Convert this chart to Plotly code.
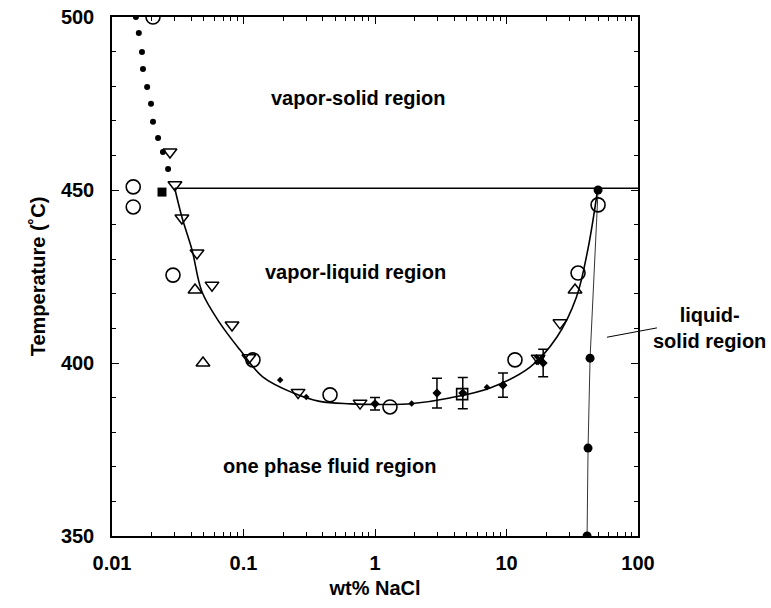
import math
import plotly.graph_objects as go

# ---------------- data ----------------
# dotted vapor-solid boundary (small filled dots)
dot_x = [0.0152, 0.0160, 0.0169, 0.0172, 0.0185, 0.0198, 0.0205, 0.0224, 0.0244, 0.0267]
dot_y = [500.0, 495.4, 489.9, 485.0, 479.8, 474.9, 469.7, 465.0, 461.0, 456.1]

# open circles
circ_x = [0.0205, 0.0145, 0.0145, 0.0291, 0.118, 0.455, 1.30, 11.6, 35.0, 49.7]
circ_y = [500.0, 450.9, 445.1, 425.4, 400.9, 390.8, 387.3, 400.9, 426.0, 445.7]

# open down-triangles
dtri_x = [0.0276, 0.0301, 0.034, 0.0443, 0.0576, 0.0818, 0.11, 0.26, 0.77, 17.4, 25.5]
dtri_y = [461.0, 451.5, 441.9, 431.8, 422.5, 411.0, 401.5, 391.5, 388.4, 401.4, 411.6]

# open up-triangles
utri_x = [0.0428, 0.0492, 33.2]
utri_y = [421.1, 400.0, 421.1]

# open square
osq_x = [4.6]
osq_y = [391.0]

# filled square
fsq_x = [0.024]
fsq_y = [449.4]

# points with error bars
eb_x = [1.0, 2.96, 4.65, 9.4, 19.0]
eb_y = [388.2, 391.3, 391.3, 393.6, 400.0]
eb_err = [1.8, 4.3, 4.5, 3.5, 4.0]

# small filled marks along the curve
sm_x = [0.19, 0.30, 1.9, 7.1]
sm_y = [395.1, 390.2, 388.3, 393.0]

# crossed mark
xm_x = [17.8]
xm_y = [401.0]

# three-phase (vapor-liquid-solid) curve
curve_x = [0.030, 0.034, 0.0406, 0.0484, 0.066, 0.094, 0.14, 0.24, 0.38, 0.65, 1.2,
           1.94, 3.7, 7.5, 15.1, 24.2, 34.0, 41.5, 49.5]
curve_y = [450.5, 442.2, 432.7, 420.5, 411.6, 403.8, 396.0, 391.3, 388.9, 388.2, 388.0,
           388.3, 389.9, 392.8, 398.8, 407.5, 419.0, 432.7, 450.5]

# halite liquidus (filled circles on thin line)
hal_x = [49.7, 43.2, 41.7, 41.0]
hal_y = [450.0, 401.4, 375.4, 350.0]

# horizontal 450 line
hl_x = [0.030, 100.0]
hl_y = [450.5, 450.5]

x_ticks = [0.01, 0.1, 1, 10, 100]
x_tick_text = ["0.01", "0.1", "1", "10", "100"]
y_ticks = [350, 400, 450, 500]

FONT = "Liberation Sans, Arial, sans-serif"
BLK = "black"

fig = go.Figure()

fig.add_trace(go.Scatter(x=hl_x, y=hl_y, mode="lines",
                         line=dict(color=BLK, width=1.5), hoverinfo="skip"))
fig.add_trace(go.Scatter(x=curve_x, y=curve_y, mode="lines",
                         line=dict(color=BLK, width=1.6, shape="spline", smoothing=1.0)))
fig.add_trace(go.Scatter(x=hal_x, y=hal_y, mode="lines+markers",
                         line=dict(color="#333333", width=1),
                         marker=dict(symbol="circle", size=9, color=BLK)))
fig.add_trace(go.Scatter(x=dot_x, y=dot_y, mode="markers",
                         marker=dict(symbol="circle", size=6, color=BLK)))
fig.add_trace(go.Scatter(x=circ_x, y=circ_y, mode="markers",
                         marker=dict(symbol="circle-open", size=14, color=BLK,
                                     line=dict(width=1.6))))
fig.add_trace(go.Scatter(x=dtri_x, y=dtri_y, mode="markers",
                         marker=dict(symbol="triangle-down-open", size=12, color=BLK,
                                     line=dict(width=1.5))))
fig.add_trace(go.Scatter(x=utri_x, y=utri_y, mode="markers",
                         marker=dict(symbol="triangle-up-open", size=12, color=BLK,
                                     line=dict(width=1.5))))
fig.add_trace(go.Scatter(x=osq_x, y=osq_y, mode="markers",
                         marker=dict(symbol="square-open", size=11, color=BLK,
                                     line=dict(width=1.6))))
fig.add_trace(go.Scatter(x=fsq_x, y=fsq_y, mode="markers",
                         marker=dict(symbol="square", size=9, color=BLK)))
fig.add_trace(go.Scatter(x=eb_x, y=eb_y, mode="markers",
                         marker=dict(symbol="diamond", size=7, color=BLK),
                         error_y=dict(type="data", array=eb_err, visible=True,
                                      color=BLK, thickness=1.5, width=5)))
fig.add_trace(go.Scatter(x=sm_x, y=sm_y, mode="markers",
                         marker=dict(symbol="diamond", size=5, color=BLK)))
fig.add_trace(go.Scatter(x=xm_x, y=xm_y, mode="markers",
                         marker=dict(symbol="x", size=10, color=BLK)))

LBL_FONT = dict(family=FONT, size=20, color=BLK, weight="bold")

# region labels
labels = [
    ("vapor-solid region", 0.74, 476.6),
    ("vapor-liquid region", 0.71, 426.3),
    ("one phase fluid region", 0.45, 370.2),
]
for txt, lx, ly in labels:
    fig.add_annotation(x=math.log10(lx), y=ly, xref="x", yref="y", text=txt,
                       showarrow=False, font=LBL_FONT,
                       xanchor="center", yanchor="middle")

fig.add_annotation(x=1.135, y=0.401, xref="paper", yref="paper",
                   text="liquid-<br>solid region", showarrow=False, align="center",
                   xanchor="center", yanchor="middle", font=LBL_FONT)
fig.add_shape(type="line", xref="paper", yref="paper", x0=0.941, y0=0.383,
              x1=1.036, y1=0.401, line=dict(color=BLK, width=1))

axis_common = dict(showline=True, linecolor=BLK, linewidth=1.5, mirror="ticks",
                   ticks="inside", ticklen=7, tickwidth=1.2, tickcolor=BLK,
                   showgrid=False, zeroline=False, automargin=False,
                   ticklabeloverflow="allow",
                   tickfont=dict(family=FONT, size=20, color=BLK, weight="bold"))

fig.update_xaxes(type="log", range=[-2, 2], tickvals=x_ticks, ticktext=x_tick_text,
                 minor=dict(ticks="inside", ticklen=4, tickcolor=BLK, dtick="D1",
                            showgrid=False),
                 ticklabelstandoff=8,
                 title=dict(text="wt% NaCl", standoff=8, font=LBL_FONT),
                 **axis_common)
fig.update_yaxes(range=[350, 500], tickvals=y_ticks,
                 minor=dict(ticks="inside", ticklen=4, tickcolor=BLK, dtick=10,
                            showgrid=False),
                 ticklabelstandoff=12,
                 title=dict(text="Temperature (˚C)", standoff=10, font=LBL_FONT),
                 **axis_common)

fig.update_layout(width=771, height=608, showlegend=False,
                  paper_bgcolor="white", plot_bgcolor="white",
                  margin=dict(l=112, r=133, t=17, b=72),
                  font=dict(family=FONT, color=BLK))

# remove the default 8 px page margin so the figure fills the window exactly
fig.write_html("out.html",
               config={"displayModeBar": False},
               post_script="document.body.style.margin='0';"
                           "document.body.style.overflow='hidden';")
